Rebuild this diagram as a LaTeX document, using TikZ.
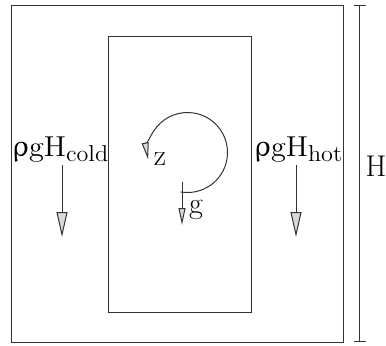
\documentclass[tikz,border=0pt]{standalone}
\usepackage{amsmath, amssymb}
\usepackage{upgreek}
\usepackage{tikz}
\usetikzlibrary{arrows.meta, positioning}

\newcommand{\sublab}[1]{\raisebox{-0.45ex}{\fontsize{11.5}{13}\selectfont #1}}

\tikzset{
  wall/.style={line width=0.5pt, black!80},
  lab/.style={font=\fontsize{15}{18}\selectfont},
  presslab/.style={lab, anchor=base, xscale=1.05, transform shape, inner sep=0pt},
  bigtip/.style={-{Triangle[length=12.5pt, width=5.5pt, fill=black!15]}},
  smalltip/.style={-{Triangle[length=8.5pt, width=3.5pt, fill=black!15]}},
}

\begin{document}
\begin{tikzpicture}[x=0.5pt, y=0.5pt]
        \useasboundingbox (0,0) rectangle (386,345);
        % tanks
        \draw[wall] (11,340) rectangle (343,3);
        \draw[wall] (108,309) rectangle (251,33);
        % height
        \coordinate (htop) at (359.5,340);
        \coordinate (hbot) at (359.5,3);
        \draw[wall, {Bar[width=6pt]}-{Bar[width=6pt]}] (htop) -- (hbot);
        \node[lab] (hlab) at (376,179) {H};
        % pressures
        \node[presslab] (pcold) at (60,189) {$\uprho\mathrm{gH}$\sublab{cold}};
        \node[presslab] (phot) at (298,189) {$\uprho\mathrm{gH}$\sublab{hot}};
        \coordinate (cold) at (62,108);
        \coordinate (hot) at (296,108);
        \draw[wall, bigtip] (62,180) -- (cold);
        \draw[wall, bigtip] (296,180) -- (hot);
        % rotation and gravity
        \coordinate (rot) at (187.5,192.5);
        \draw[wall, smalltip] (rot) ++(-100:40) arc[start angle=-100, end angle=190, radius=40];
        \node[lab] (zlab) at (160,186) {z};
        \coordinate (gtop) at (182,163);
        \coordinate (gbot) at (182,120);
        \draw[wall, smalltip] (gtop) -- (gbot);
        \node[lab] (glab) at (196,135) {g};
    \end{tikzpicture}
\end{document}
